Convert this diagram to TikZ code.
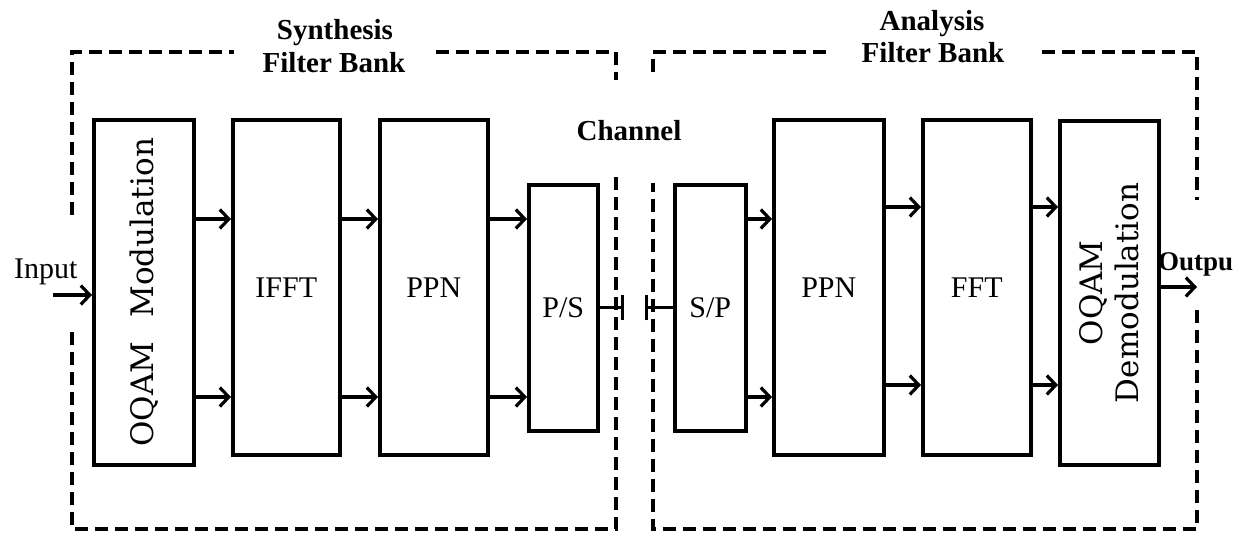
\documentclass[tikz,border=0pt]{standalone}
\usepackage{fontspec}
\setmainfont{Liberation Serif}
\newfontfamily\rotfont{DejaVu Serif}
\usetikzlibrary{arrows.meta}
\begin{document}
\begin{tikzpicture}[x=1pt,y=-1pt,
  blk/.style={draw, line width=3.6pt, inner sep=0pt, anchor=north west, font=\fontsize{30}{36}\selectfont},
  arr/.style={line width=3.2pt, -{Straight Barb[length=9pt,width=19pt]}},
  barline/.style={line width=3.2pt, -{Bar[width=25pt]}},
  dbox/.style={line width=3.2pt, dash pattern=on 13pt off 7pt},
  ttl/.style={font=\fontsize{29}{34}\selectfont\bfseries, anchor=base, inner sep=0pt},
  iolbl/.style={anchor=base west, inner sep=0pt},
  rot/.style={rotate=90, inner sep=0pt, font=\rotfont\fontsize{31}{36}\selectfont}]
\useasboundingbox (0,0) rectangle (1233,533);
% blocks
\node[blk, minimum width=100pt, minimum height=345pt] (oqam) at (92,118) {};
\node[blk, minimum width=107pt, minimum height=335pt] (ifft) at (231,118) {IFFT};
\node[blk, minimum width=108pt, minimum height=335pt] (ppnA) at (378,118) {PPN};
\node[blk, minimum width=69pt, minimum height=246pt] (ps) at (527,183) {P/S};
\node[blk, minimum width=71pt, minimum height=246pt] (sp) at (673,183) {S/P};
\node[blk, minimum width=110pt, minimum height=335pt] (ppnB) at (772,118) {PPN};
\node[blk, minimum width=108pt, minimum height=335pt] (fft) at (921,118) {FFT};
\node[blk, minimum width=99pt, minimum height=344pt] (demod) at (1058,119) {};
% rotated labels
\node[rot] (oqamL) at (oqam.center) {OQAM\hspace{24pt}Modulation};
\node[rot, align=center] (demodL) at (demod.center) {OQAM\\Demodulation};
% arrow rows
\coordinate (rA) at (0,219);
\coordinate (rB) at (0,397);
\coordinate (rC) at (0,207);
\coordinate (rD) at (0,385);
\draw[arr] (oqam.east |- rA) -- (ifft.west |- rA);
\draw[arr] (oqam.east |- rB) -- (ifft.west |- rB);
\draw[arr] (ifft.east |- rA) -- (ppnA.west |- rA);
\draw[arr] (ifft.east |- rB) -- (ppnA.west |- rB);
\draw[arr] (ppnA.east |- rA) -- (ps.west |- rA);
\draw[arr] (ppnA.east |- rB) -- (ps.west |- rB);
\draw[arr] (sp.east |- rA) -- (ppnB.west |- rA);
\draw[arr] (sp.east |- rB) -- (ppnB.west |- rB);
\draw[arr] (ppnB.east |- rC) -- (fft.west |- rC);
\draw[arr] (ppnB.east |- rD) -- (fft.west |- rD);
\draw[arr] (fft.east |- rC) -- (demod.west |- rC);
\draw[arr] (fft.east |- rD) -- (demod.west |- rD);
% channel
\coordinate (b1) at (624,307);
\coordinate (b2) at (645,307);
\draw[barline] (ps.east) -- (ps.east -| b1);
\draw[barline] (sp.west) -- (sp.west -| b2);
% input / output
\coordinate (inS) at (53,295);
\coordinate (outE) at (1197,287);
\draw[arr] (inS) -- (inS -| oqam.west);
\draw[arr] (demod.east |- outE) -- (outE);
\node[iolbl, font=\fontsize{30}{36}\selectfont] (inp) at (14,278) {Input};
\node[iolbl, font=\fontsize{27}{32}\selectfont\bfseries] (outp) at (1158,270) {Output};
% dashed groups
\draw[dbox] (72,215) -- (72,52) -- (234,52);
\draw[dbox] (436,52) -- (616,52) -- (616,80);
\draw[dbox] (616,177) -- (616,529) -- (72,529) -- (72,325);
\draw[dbox] (653,72) -- (653,52) -- (830,52);
\draw[dbox] (1042,52) -- (1197,52) -- (1197,200);
\draw[dbox] (1197,310) -- (1197,529) -- (653,529) -- (653,183);
% titles
\node[ttl] (syn1) at (335,39) {Synthesis};
\node[ttl] (syn2) at (334,72) {Filter Bank};
\node[ttl] (ana1) at (932,30) {Analysis};
\node[ttl] (ana2) at (933,62) {Filter Bank};
\node[ttl] (chan) at (629,140) {Channel};
\end{tikzpicture}
\end{document}
